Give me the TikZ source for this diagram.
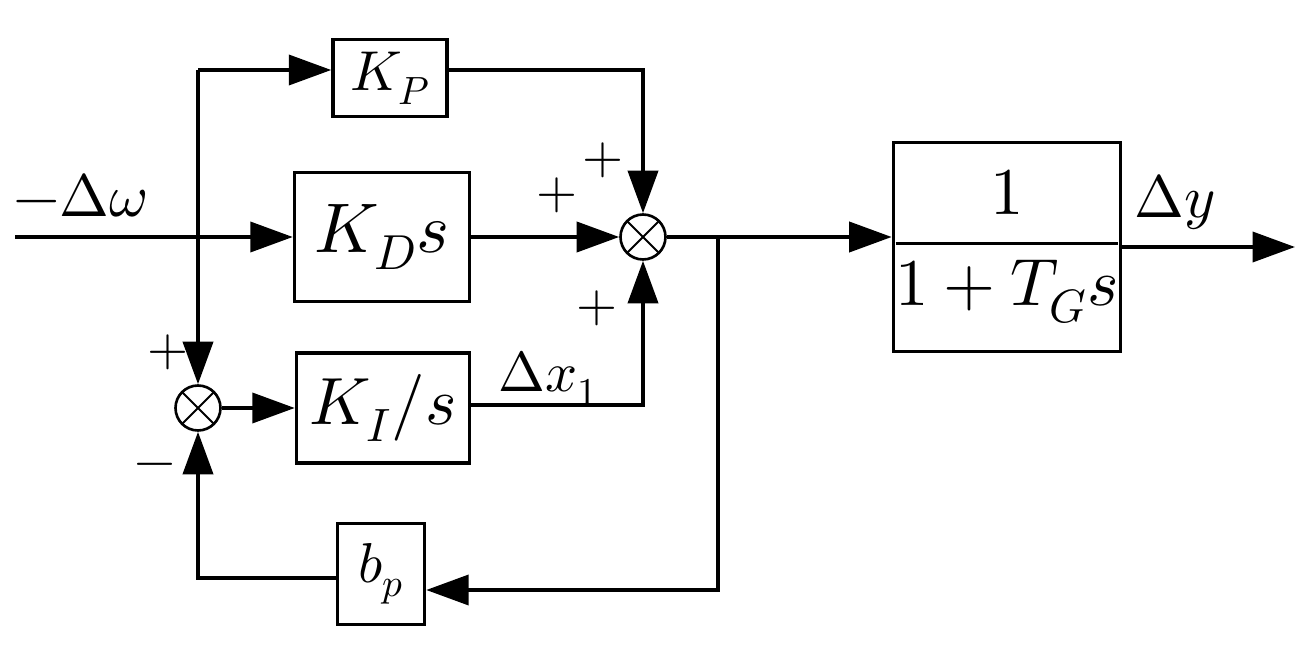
\documentclass[tikz,border=0pt]{standalone}
\usepackage{fontspec}
\setmainfont{Liberation Serif}
\usepackage{unicode-math}
\setmathfont{Latin Modern Math}
\usetikzlibrary{arrows.meta, positioning}
\begin{document}
\begin{tikzpicture}[
    x=0.02cm, y=-0.02cm,
    block/.style={rectangle, draw, line width=2pt, inner sep=0pt},
    sum/.style={circle, draw, line width=1.5pt, minimum size=0.9cm, inner sep=0pt, path picture={\draw[line width=1.2pt] (path picture bounding box.north west) -- (path picture bounding box.south east) (path picture bounding box.north east) -- (path picture bounding box.south west);}},
    flow/.style={-{Triangle[length=0.85cm, width=0.6cm]}, line width=2.2pt},
    line/.style={line width=2.2pt},
    sign/.style={font=\fontsize{30}{32}\selectfont}
]
\useasboundingbox (0,0) rectangle (1302,655);

% Blocks
\node[block, minimum width=2.28cm, minimum height=1.54cm, font=\fontsize{32}{34}\selectfont] (kp) at (390,78) {$K_P$};
\node[block, minimum width=3.5cm, minimum height=2.58cm, font=\fontsize{40}{42}\selectfont] (kd) at (382,237) {$K_D s$};
\node[block, minimum width=3.46cm, minimum height=2.2cm, font=\fontsize{38}{40}\selectfont] (ki) at (383,408) {$K_I/s$};
\node[block, minimum width=1.74cm, minimum height=2.02cm, font=\fontsize{32}{34}\selectfont] (bp) at (381,574) {$b_p$};
\node[block, minimum width=4.38cm, minimum height=4.18cm, font=\fontsize{38}{40}\selectfont] (tg) at (1007,247) {$\dfrac{1}{1+T_G s}$};

% Summing points
\node[sum] (s1) at (643,237) {};
\node[sum] (s2) at (198,408) {};

% Points
\coordinate (in) at (15,237);
\coordinate (br) at (198,237);
\coordinate (top) at (198,70);
\coordinate (fb) at (718,237);
\coordinate (out) at (1295,247);

% Flows
\draw[flow] (in) -- (kd);
\draw[line] (br) -- (top);
\draw[flow] (top) -- (kp.west |- top);
\draw[flow] (kp.east |- top) -| (s1);
\draw[flow] (kd) -- (s1);
\draw[flow] (ki.east |- 0,405) -| (s1);
\draw[flow] (top) -- (s2);
\draw[flow] (s2) -- (ki);
\draw[flow] (s1) -- (tg.west |- s1);
\draw[flow] (tg.east |- out) -- (out);
\draw[flow] (fb) |- (bp.east |- 0,590);
\draw[flow] (bp.west |- 0,578) -| (s2);

% Labels
\node[font=\fontsize{34}{36}\selectfont] (dw) at (80,195) {$-\Delta\omega$};
\node[font=\fontsize{34}{36}\selectfont] (dy) at (1175,202) {$\Delta y$};
\node[font=\fontsize{32}{34}\selectfont] (dx) at (548,378) {$\Delta x_1$};
\node[sign] (p1) at (603,160) {$+$};
\node[sign] (p2) at (557,195) {$+$};
\node[sign] (p3) at (597,308) {$+$};
\node[sign] (p4) at (168,352) {$+$};
\node[sign] (m1) at (155,470) {$-$};
\end{tikzpicture}
\end{document}
